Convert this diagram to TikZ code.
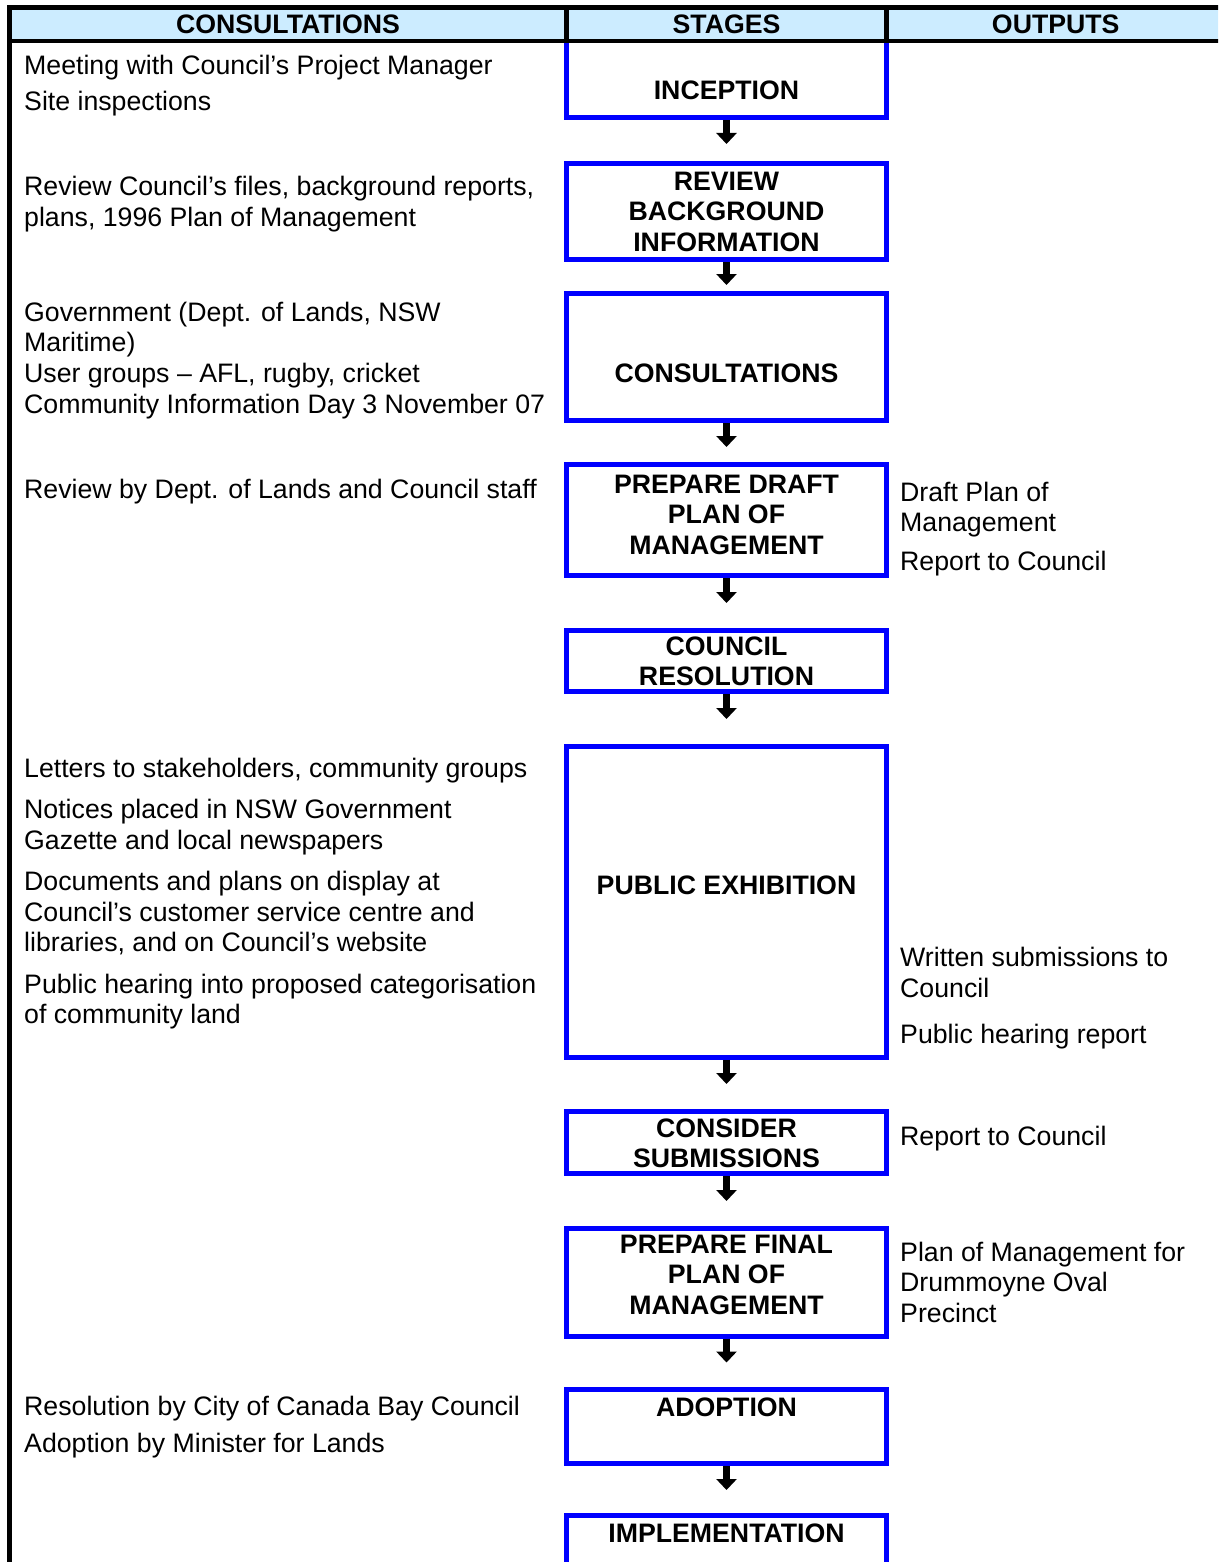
\documentclass[tikz,border=0pt]{standalone}
\usepackage{fontspec}
\setmainfont{Liberation Sans}
\usetikzlibrary{arrows.meta}
\definecolor{hdrblue}{RGB}{204,236,255}
\definecolor{boxblue}{RGB}{0,0,255}
\begin{document}
\begin{tikzpicture}[x=1pt,y=-1pt,
  txt/.style={anchor=west, inner sep=0pt, text height=19pt, text depth=0pt, font=\fontsize{26.7}{30.5}\selectfont},
  stagebox/.style={draw=boxblue, line width=5pt, minimum width=320pt, inner sep=0pt},
  stagetxt/.style={align=center, inner sep=0pt, font=\fontsize{26.7}{30.5}\selectfont\bfseries},
  hdr/.style={draw=black, fill=hdrblue, line width=4.5pt, minimum height=33.5pt, inner sep=0pt, outer sep=0pt, font=\fontsize{26.7}{30.5}\selectfont\bfseries},
  arr/.style={line width=7.5pt, -{Triangle[width=20pt,length=11pt]}},
  border/.style={line width=4.5pt, draw=black}]
\useasboundingbox (0,0) rectangle (1218,1562);
\fill[white] (0,0) rectangle (1218,1562);
\clip (0,0) rectangle (1218,1562);

% stage boxes
\node[stagebox, minimum height=76.5pt] (inc) at (726.5,79.25) {};
\node[stagebox, minimum height=96pt] (rev) at (726.5,211.5) {};
\node[stagebox, minimum height=127pt] (cons) at (726.5,357) {};
\node[stagebox, minimum height=111pt] (draft) at (726.5,520) {};
\node[stagebox, minimum height=61pt] (res) at (726.5,661) {};
\node[stagebox, minimum height=310.5pt] (pub) at (726.5,901.75) {};
\node[stagebox, minimum height=62pt] (sub) at (726.5,1142.5) {};
\node[stagebox, minimum height=107.5pt] (fin) at (726.5,1282.25) {};
\node[stagebox, minimum height=74.5pt] (adopt) at (726.5,1426.25) {};
\node[stagebox, minimum height=100pt] (impl) at (726.5,1565.5) {};

% stage labels
\node[stagetxt] (tinc) at (726.5,90) {INCEPTION};
\node[stagetxt] (trev) at (726.5,211.5) {REVIEW\\BACKGROUND\\INFORMATION};
\node[stagetxt] (tcons) at (726.5,373) {CONSULTATIONS};
\node[stagetxt] (tdraft) at (726.5,514.5) {PREPARE DRAFT\\PLAN OF\\MANAGEMENT};
\node[stagetxt] (tres) at (726.5,661.5) {COUNCIL\\RESOLUTION};
\node[stagetxt] (tpub) at (726.5,885) {PUBLIC EXHIBITION};
\node[stagetxt] (tsub) at (726.5,1143.5) {CONSIDER\\SUBMISSIONS};
\node[stagetxt] (tfin) at (726.5,1274.5) {PREPARE FINAL\\PLAN OF\\MANAGEMENT};
\node[stagetxt] (tadopt) at (726.5,1407) {ADOPTION};
\node[stagetxt] (timpl) at (726.5,1533) {IMPLEMENTATION};

% arrows
\draw[arr, shorten >=17pt] (inc.south) -- (rev.north);
\draw[arr, shorten >=6pt] (rev.south) -- (cons.north);
\draw[arr, shorten >=15pt] (cons.south) -- (draft.north);
\draw[arr, shorten >=25pt] (draft.south) -- (res.north);
\draw[arr, shorten >=25pt] (res.south) -- (pub.north);
\draw[arr, shorten >=25pt] (pub.south) -- (sub.north);
\draw[arr, shorten >=25pt] (sub.south) -- (fin.north);
\draw[arr, shorten >=24pt] (fin.south) -- (adopt.north);
\draw[arr, shorten >=23pt] (adopt.south) -- (impl.north);

% header
\node[hdr, minimum width=557pt] (hc) at (288,24.25) {CONSULTATIONS};
\node[hdr, minimum width=320pt] (hs) at (726.5,24.25) {STAGES};
\node[hdr, minimum width=338.5pt] (ho) at (1055.75,24.25) {OUTPUTS};
\coordinate (lb) at (9.5,1570);
\draw[border] (hc.south west) -- (lb);

% consultations column
\node[txt] (l1) at (24,65) {Meeting with Council’s Project Manager};
\node[txt] (l2) at (24,101) {Site inspections};
\node[txt] (l3) at (24,186) {Review Council’s files, background reports,};
\node[txt] (l4) at (24,217) {plans, 1996 Plan of Management};
\node[txt] (l5) at (24,312) {Government (Dept. of Lands, NSW};
\node[txt] (l6) at (24,342) {Maritime)};
\node[txt] (l7) at (24,373) {User groups – AFL, rugby, cricket};
\node[txt] (l8) at (24,404) {Community Information Day 3 November 07};
\node[txt] (l9) at (24,489) {Review by Dept. of Lands and Council staff};
\node[txt] (l10) at (24,768) {Letters to stakeholders, community groups};
\node[txt] (l11) at (24,809) {Notices placed in NSW Government};
\node[txt] (l12) at (24,840) {Gazette and local newspapers};
\node[txt] (l13) at (24,881) {Documents and plans on display at};
\node[txt] (l14) at (24,912) {Council’s customer service centre and};
\node[txt] (l15) at (24,942) {libraries, and on Council’s website};
\node[txt] (l16) at (24,984) {Public hearing into proposed categorisation};
\node[txt] (l17) at (24,1014) {of community land};
\node[txt] (l18) at (24,1406) {Resolution by City of Canada Bay Council};
\node[txt] (l19) at (24,1443) {Adoption by Minister for Lands};

% outputs column
\node[txt] (r1) at (900,492) {Draft Plan of};
\node[txt] (r2) at (900,522) {Management};
\node[txt] (r3) at (900,561) {Report to Council};
\node[txt] (r4) at (900,957) {Written submissions to};
\node[txt] (r5) at (900,988) {Council};
\node[txt] (r6) at (900,1034) {Public hearing report};
\node[txt] (r7) at (900,1136) {Report to Council};
\node[txt] (r8) at (900,1252) {Plan of Management for};
\node[txt] (r9) at (900,1282) {Drummoyne Oval};
\node[txt] (r10) at (900,1313) {Precinct};
\end{tikzpicture}
\end{document}
